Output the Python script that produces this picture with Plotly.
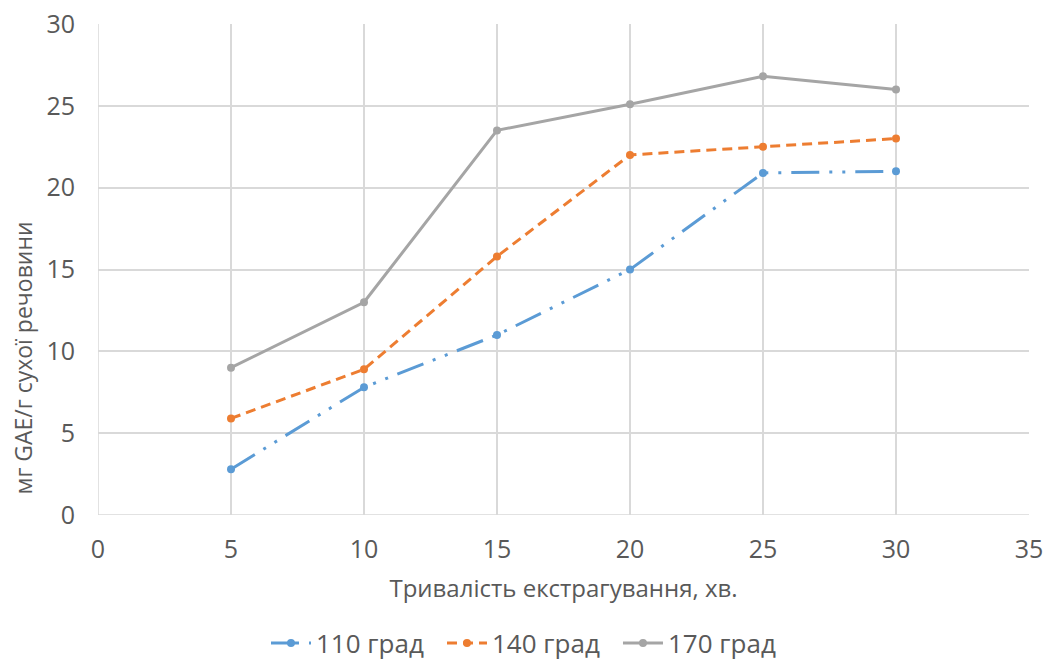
import plotly.graph_objects as go

# Extraction time, min
time_min = [5, 10, 15, 20, 25, 30]

# Phenolics yield, mg GAE / g dry matter, per extraction temperature
gae_110 = [2.8, 7.8, 11.0, 15.0, 20.9, 21.0]
gae_140 = [5.9, 8.9, 15.8, 22.0, 22.5, 23.0]
gae_170 = [9.0, 13.0, 23.5, 25.1, 26.8, 26.0]

series_names = ["110 град", "140 град", "170 град"]
colors = ["#5B9BD5", "#ED7D31", "#A5A5A5"]
dashes = ["28px,10px,3px,10px,3px,10px", "10px,6px", "solid"]

TEXT = "#595959"
GRID = "#D9D9D9"
FONT = "Open Sans"

fig = go.Figure()
for name, ys, c, d in zip(series_names, [gae_110, gae_140, gae_170], colors, dashes):
    fig.add_trace(go.Scatter(
        x=time_min, y=ys, name=name, mode="lines+markers",
        line=dict(color=c, width=3, dash=d),
        marker=dict(color=c, size=8, symbol="circle"),
    ))

fig.update_layout(
    width=1046, height=660,
    margin=dict(l=98, r=17, t=24, b=145, autoexpand=False),
    paper_bgcolor="white", plot_bgcolor="white",
    font=dict(family=FONT, color=TEXT, size=25),
    showlegend=True,
    legend=dict(
        orientation="h", x=0.464, xanchor="center", y=-0.261, yanchor="middle",
        font=dict(size=26, color=TEXT), itemwidth=40, traceorder="normal",
        entrywidth=121, entrywidthmode="pixels",
    ),
    xaxis=dict(
        range=[0, 35], tickmode="linear", tick0=0, dtick=5,
        showgrid=True, gridcolor=GRID, gridwidth=1.5,
        zeroline=False, showline=False, ticks="", ticklabelstandoff=17,
        tickfont=dict(size=25, color=TEXT),
        title=dict(text="Тривалість екстрагування, хв.", font=dict(size=24, color=TEXT), standoff=16),
    ),
    yaxis=dict(
        range=[0, 30], tickmode="linear", tick0=0, dtick=5,
        showgrid=True, gridcolor=GRID, gridwidth=1.5,
        zeroline=False, showline=False, ticks="", ticklabelstandoff=22,
        tickfont=dict(size=25, color=TEXT),
    ),
)

# Y-axis title, rotated and set to the left of the tick labels
fig.add_annotation(
    text="мг GAE/г сухої речовини", textangle=-90, showarrow=False,
    xref="paper", yref="paper", x=-0.081, y=0.32,
    xanchor="center", yanchor="middle",
    font=dict(size=23, color=TEXT, family=FONT),
)

# Boundary lines of the plotting area at x = 0 and y = 0
fig.add_shape(type="line", xref="x", yref="paper", x0=0, x1=0, y0=0, y1=1,
              line=dict(color=GRID, width=1.5), layer="below")
fig.add_shape(type="line", xref="paper", yref="y", x0=0, x1=1, y0=0, y1=0,
              line=dict(color=GRID, width=1.5), layer="below")

fig.write_html("out.html")
